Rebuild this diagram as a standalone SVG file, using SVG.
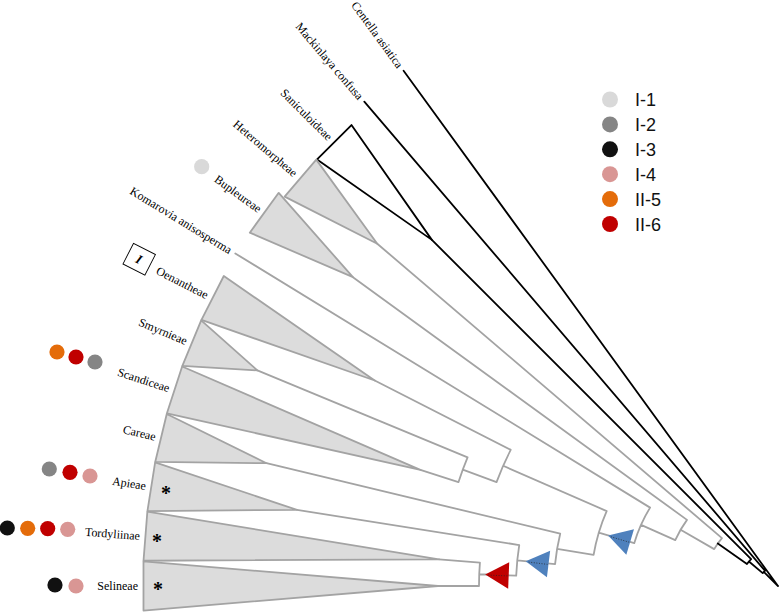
<svg xmlns="http://www.w3.org/2000/svg" width="779" height="612" viewBox="0 0 779 612">
<style>
.g{fill:none;stroke:#a3a3a3;stroke-width:1.8;stroke-linejoin:round;stroke-linecap:round}
.k{fill:none;stroke:#000;stroke-width:1.8;stroke-linejoin:round;stroke-linecap:round}
.tri{fill:#dcdcdc;stroke:#a3a3a3;stroke-width:1.8;stroke-linejoin:round}
.ktri{fill:#fff;stroke:#000;stroke-width:1.8;stroke-linejoin:round}
.lab{font-family:"Liberation Serif","Times New Roman",serif;font-size:12px;fill:#000}
.leg{font-family:"Liberation Sans",Arial,sans-serif;font-size:18px;fill:#111}
.ast{font-family:"Liberation Serif","Times New Roman",serif;font-size:20px;font-weight:bold;fill:#000}
.dot{fill:none;stroke:#222;stroke-width:0.7;stroke-dasharray:1 1.6}
</style>
<rect width="779" height="612" fill="#fff"/>
<g id="connectors">
<path class="g" d="M438,586 L479,586 M439.05,559.32 L479.92,562.54 M479,586 A299,299 0 0 1 479.92,562.54 M479.23,574.26 L516.2,575.71 M297,509.82 L519.23,545.02 M516.2,575.71 A262,262 0 0 1 519.23,545.02 M517.26,560.32 L555.08,564.04 M266.53,463.21 L560.19,533.71 M555.08,564.04 A224,224 0 0 1 560.19,533.71 M557.11,548.79 L593.6,554.93 M420.4,469.81 L458.44,482.17 M257.39,370.36 L467.58,457.42 M458.44,482.17 A336,336 0 0 1 467.58,457.42 M462.77,469.7 L496.54,482.16 M374.73,380.52 L510.7,449.8 M496.54,482.16 A300,300 0 0 1 510.7,449.8 M503.14,465.77 L606.67,511.06 M593.6,554.93 A187,187 0 0 1 606.67,511.06 M598.78,532.61 L634.24,543.17 M235.3,253.43 L650.1,507.62 M634.24,543.17 A150,150 0 0 1 650.1,507.62 M641.02,524.87 L675.27,540.15 M352.94,277.18 L686.99,519.87 M675.27,540.15 A112.5,112.5 0 0 1 686.99,519.87 M680.59,529.72 L714.19,549.13 M377.27,243.74 L721.96,538.14 M714.19,549.13 A73.7,73.7 0 0 1 721.96,538.14"/>
<path class="k" d="M717.82,543.45 L746.97,564.06 M431.87,239.87 L751.13,559.13 M746.97,564.06 A38,38 0 0 1 751.13,559.13 M748.95,561.51 L762.71,573.11 M364.3,101.62 L765.01,570.79 M762.71,573.11 A20,20 0 0 1 765.01,570.79 M763.81,571.91 L778,586 M403.58,70.66 L778,586"/>
</g>
<g id="centella"><text class="lab" text-anchor="end" dy=".35em" transform="translate(400.64,66.61) rotate(54)">Centella asiatica</text></g>
<g id="mackinlaya"><text class="lab" text-anchor="end" dy=".35em" transform="translate(361.05,97.82) rotate(49.5)">Mackinlaya confusa</text></g>
<g id="saniculoideae"><polygon class="ktri" points="351.47,125.06 317.07,159.47 431.87,239.87"/><text class="lab" text-anchor="end" dy=".35em" transform="translate(330.4,138.4) rotate(45)">Saniculoideae</text></g>
<g id="heteromorpheae"><polygon class="tri" points="316.26,159.62 284.63,196.64 377.27,243.74"/><text class="lab" text-anchor="end" dy=".35em" transform="translate(295.9,174.25) rotate(40.5)">Heteromorpheae</text></g>
<g id="bupleureae"><polygon class="tri" points="278.72,192.83 249.78,232.66 352.94,277.18"/><text class="lab" text-anchor="end" dy=".35em" transform="translate(260.23,209.82) rotate(36)">Bupleureae</text><circle cx="201.7" cy="166.7" r="7.6" fill="#d9d9d9"/></g>
<g id="komarovia"><text class="lab" text-anchor="end" dy=".35em" transform="translate(231.03,250.82) rotate(31.5)">Komarovia anisosperma</text></g>
<g id="oenantheae"><polygon class="tri" points="223.8,276.01 201.46,319.85 374.73,380.52"/><text class="lab" text-anchor="end" dy=".35em" transform="translate(207.75,295.45) rotate(27)">Oenantheae</text>
<g transform="translate(139.2,259.2) rotate(27)"><rect x="-12.3" y="-11.6" width="24.6" height="23.2" fill="#fff" stroke="#000" stroke-width="0.9"/><text x="0" y="0" dy=".35em" text-anchor="middle" style="font-family:'Liberation Serif',serif;font-size:13px;font-style:italic;font-weight:bold">I</text></g></g>
<g id="smyrnieae"><polygon class="tri" points="201.19,320.45 182.36,365.9 257.39,370.36"/><text class="lab" text-anchor="end" dy=".35em" transform="translate(186.72,341.08) rotate(22.5)">Smyrnieae</text></g>
<g id="scandiceae"><polygon class="tri" points="182.14,366.52 166.93,413.32 420.4,469.81"/><text class="lab" text-anchor="end" dy=".35em" transform="translate(169.32,388.23) rotate(18)">Scandiceae</text>
<circle cx="57" cy="352" r="7.6" fill="#e46c0a"/><circle cx="76" cy="357" r="7.6" fill="#c00000"/><circle cx="95" cy="362" r="7.6" fill="#858585"/></g>
<g id="careae"><polygon class="tri" points="166.75,413.95 155.27,461.79 266.53,463.21"/><text class="lab" text-anchor="end" dy=".35em" transform="translate(155.68,436.59) rotate(13.5)">Careae</text></g>
<g id="apieae"><polygon class="tri" points="155.13,462.44 147.44,511.03 297,509.82"/><text class="lab" text-anchor="end" dy=".35em" transform="translate(145.88,485.88) rotate(9)">Apieae</text>
<text class="ast" x="166" y="499.5" text-anchor="middle">*</text>
<circle cx="49.3" cy="469" r="7.6" fill="#858585"/><circle cx="70" cy="472.3" r="7.6" fill="#c00000"/><circle cx="90" cy="476" r="7.6" fill="#d99694"/></g>
<g id="tordyliinae"><polygon class="tri" points="147.36,511.69 143.5,560.74 439.05,559.32"/><text class="lab" text-anchor="end" dy=".35em" transform="translate(139.97,535.79) rotate(4.5)">Tordyliinae</text>
<text class="ast" x="157" y="547.5" text-anchor="middle">*</text>
<circle cx="7.3" cy="528" r="7.6" fill="#111"/><circle cx="27.7" cy="528.3" r="7.6" fill="#e46c0a"/><circle cx="47.7" cy="528.6" r="7.6" fill="#c00000"/><circle cx="67.7" cy="529.3" r="7.6" fill="#d99694"/></g>
<g id="selineae"><polygon class="tri" points="143.48,561.4 143.48,610.6 438,586"/><text class="lab" text-anchor="end" dy=".35em" transform="translate(138,586)">Selineae</text>
<text class="ast" x="158" y="595.5" text-anchor="middle">*</text>
<circle cx="55" cy="585" r="7.6" fill="#111"/><circle cx="76" cy="586" r="7.6" fill="#d99694"/></g>
<g id="markers">
<g transform="translate(485.2,574.5) rotate(2.25)"><polygon points="0,0 23.5,-13.3 23.5,13.3" fill="#c00000"/><line class="dot" x1="3" y1="0.5" x2="23" y2="0.5"/></g>
<g transform="translate(525.7,561.2) rotate(7)"><polygon points="0,0 23,-13.4 23,13.4" fill="#4f81bd"/><line class="dot" x1="3" y1="0.5" x2="22" y2="0.5"/></g>
<g transform="translate(608.1,535.4) rotate(16.6)"><polygon points="0,0 23,-13.4 23,13.4" fill="#4f81bd"/><line class="dot" x1="3" y1="0.5" x2="22" y2="0.5"/></g>
</g>
<g id="legend">
<circle cx="610" cy="99.5" r="8" fill="#d9d9d9"/><text class="leg" x="635" y="106">I-1</text>
<circle cx="610" cy="124.4" r="8" fill="#858585"/><text class="leg" x="635" y="130.9">I-2</text>
<circle cx="610" cy="149.3" r="8" fill="#111"/><text class="leg" x="635" y="155.8">I-3</text>
<circle cx="610" cy="174.2" r="8" fill="#d99694"/><text class="leg" x="635" y="180.7">I-4</text>
<circle cx="610" cy="199.1" r="8" fill="#e46c0a"/><text class="leg" x="635" y="205.6">II-5</text>
<circle cx="610" cy="224" r="8" fill="#c00000"/><text class="leg" x="635" y="230.5">II-6</text>
</g>
</svg>
